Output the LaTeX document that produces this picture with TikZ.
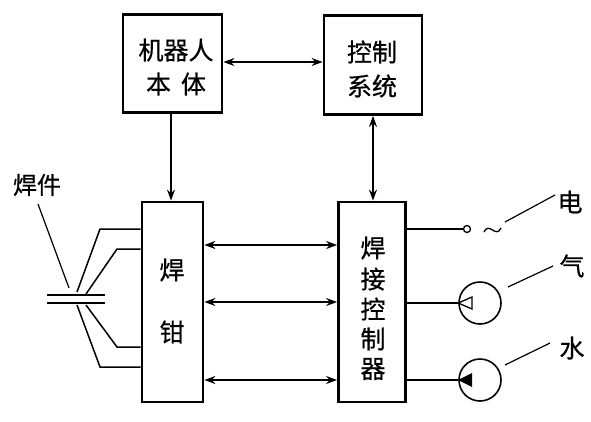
\documentclass[tikz,border=0pt]{standalone}
\usepackage{fontspec}
\newfontfamily\cjk[FakeBold=0.6]{Noto Sans CJK SC}
\usetikzlibrary{arrows.meta}
\begin{document}
\begin{tikzpicture}[x=1pt,y=-1pt,
  box/.style={draw,line width=2.8pt,inner sep=0pt},
  conn/.style={line width=1.5pt},
  arr/.style={conn,-{Stealth[length=11pt,width=8pt]}},
  darr/.style={conn,{Stealth[length=11pt,width=8pt]}-{Stealth[length=11pt,width=8pt]}},
  txt/.style={font=\cjk\fontsize{25}{30}\selectfont,inner sep=0pt},
  lead/.style={line width=1.2pt}]
\useasboundingbox (0,0) rectangle (591,421);
% boxes
\node[box,minimum width=99pt,minimum height=98pt] (robot) at (172.5,63.5) {};
\node[box,minimum width=98pt,minimum height=99pt] (ctrl) at (373,65) {};
\node[box,minimum width=61pt,minimum height=200pt] (tong) at (172.5,302) {};
\node[box,minimum width=67pt,minimum height=200pt] (wc) at (372,302) {};
% texts
\node[txt] (t1) at (176,50) {机器人};
\node[txt] (t2) at (176,84) {本\hspace{0.4em}体};
\node[txt] (t3) at (372,52) {控制};
\node[txt] (t4) at (372,86) {系统};
\node[txt] (t5) at (172,270) {焊};
\node[txt] (t6) at (172,332) {钳};
\node[txt] (w1) at (373,248) {焊};
\node[txt] (w2) at (373,279) {接};
\node[txt] (w3) at (373,309) {控};
\node[txt] (w4) at (373,339) {制};
\node[txt] (w5) at (373,369) {器};
% connectors
\draw[darr] (robot.east |- 0,62) -- (ctrl.west |- 0,62);
\draw[arr] (robot.south -| 171,0) -- (tong.north -| 171,0);
\draw[darr] (ctrl.south -| 373,0) -- (wc.north -| 373,0);
\foreach \y in {245,302,380}
  \draw[darr] (tong.east |- 0,\y) -- (wc.west |- 0,\y);
% workpiece
\coordinate (p1) at (47,295); \coordinate (p2) at (105,295);
\coordinate (p3) at (47,303); \coordinate (p4) at (105,303);
\draw[conn] (p1) -- (p2);
\draw[conn] (p3) -- (p4);
\draw[conn] (77,292) -- (100,229) -- (tong.west |- 0,229);
\draw[conn] (86,294) -- (117,249) -- (tong.west |- 0,249);
\draw[conn] (86,305) -- (117,347) -- (tong.west |- 0,347);
\draw[conn] (77,305) -- (100,367) -- (tong.west |- 0,367);
\node[font=\cjk\fontsize{24}{28}\selectfont,inner sep=0pt] (wp) at (37,185) {焊件};
\coordinate (wpl) at (38,204);
\coordinate (wpe) at (69,288);
\draw[lead] (wpl) -- (wpe);
% right side: electricity
\node[draw,circle,line width=1.3pt,minimum size=7pt,inner sep=0pt] (ec) at (467,229) {};
\draw[conn] (wc.east |- 0,229) -- (ec.west);
\coordinate (tl1) at (484,232); \coordinate (tl2) at (501,228);
\draw[line width=1.3pt] (tl1) .. controls (489,221) and (496,239) .. (tl2);
\coordinate (el1) at (505,222); \coordinate (el2) at (555,195);
\draw[lead] (el1) -- (el2);
\node[txt] (dian) at (570,202) {电};
% gas
\node[draw,circle,line width=1.6pt,minimum size=42pt,inner sep=0pt] (gc) at (480,303) {};
\draw[conn] (wc.east |- 0,303) -- (gc.west);
\draw[line width=1.3pt] (gc.west) -- (472,297) -- (472,309) -- cycle;
\coordinate (gl1) at (508,287); \coordinate (gl2) at (553,266);
\draw[lead] (gl1) -- (gl2);
\node[txt] (qi) at (572,266) {气};
% water
\node[draw,circle,line width=1.6pt,minimum size=42pt,inner sep=0pt] (sc) at (480,380) {};
\draw[conn] (wc.east |- 0,380) -- (sc.west);
\fill (sc.west) -- (472,373) -- (472,387) -- cycle;
\coordinate (sl1) at (505,365); \coordinate (sl2) at (550,343);
\draw[lead] (sl1) -- (sl2);
\node[txt] (shui) at (572,348) {水};
\end{tikzpicture}
\end{document}
